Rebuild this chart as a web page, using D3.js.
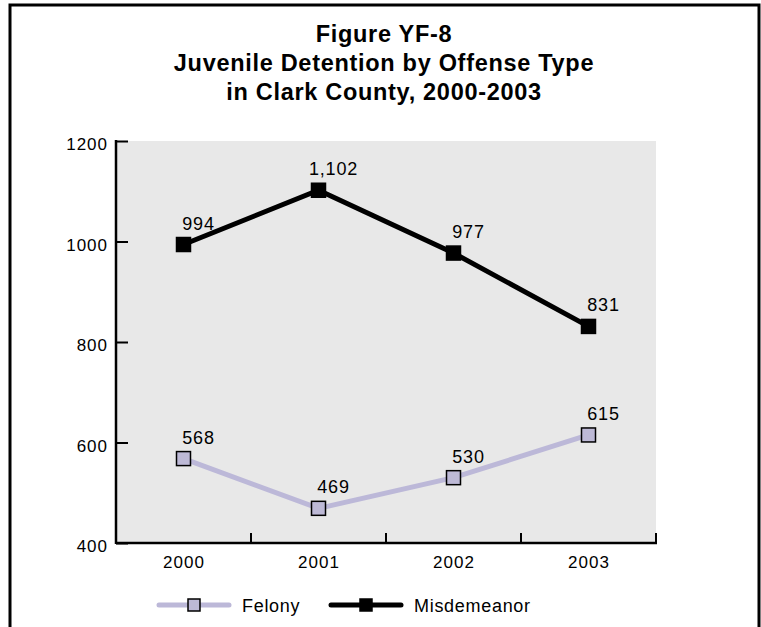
<!DOCTYPE html>
<html><head><meta charset="utf-8">
<script src="https://cdn.jsdelivr.net/npm/d3@7"></script>
<style>body{margin:0;background:#fff}svg{display:block;font-family:"Liberation Sans",Arial,sans-serif}</style>
</head><body><svg id="c" width="761" height="627"></svg>
<script>
const years = ["2000","2001","2002","2003"];
const felony = [568, 469, 530, 615];
const misdemeanor = [994, 1102, 977, 831];
const yTicks = [400, 600, 800, 1000, 1200];
const titleLines = ["Figure YF-8","Juvenile Detention by Offense Type","in Clark County, 2000-2003"];

const svg = d3.select("#c");
// frame
svg.append("path").attr("d","M10,627 V5 H759 V627").attr("fill","none").attr("stroke","#000").attr("stroke-width",3);

svg.selectAll("text.title").data(titleLines).join("text")
  .attr("x",384).attr("y",(d,i)=>42+i*29).attr("text-anchor","middle")
  .attr("font-size",23.5).attr("letter-spacing",0.7).attr("font-weight","bold").text(d=>d);

const L=116, R=656, T=141, B=543;
const x = d3.scaleBand().domain(years).range([L,R]);
const y = d3.scaleLinear().domain([400,1200]).range([B,T]);

svg.append("rect").attr("x",L).attr("y",T).attr("width",R-L).attr("height",B-T).attr("fill","#e8e8e8");

// y axis
const ya = svg.append("g").attr("transform",`translate(${L},0)`)
  .call(d3.axisRight(y).tickValues(yTicks).tickSize(12).tickFormat(""));
ya.select(".domain").remove();
ya.selectAll("line").attr("stroke","#000").attr("stroke-width",2);
svg.append("line").attr("x1",L).attr("x2",L).attr("y1",T-1).attr("y2",B+1).attr("stroke","#000").attr("stroke-width",2.5);
svg.selectAll("text.yt").data(yTicks).join("text").attr("x",L-8).attr("y",d=>y(d)+9)
  .attr("text-anchor","end").attr("font-size",17).attr("letter-spacing",1).text(d=>d);

// x axis
svg.append("line").attr("x1",L).attr("x2",R+1).attr("y1",B).attr("y2",B).attr("stroke","#000").attr("stroke-width",2.5);
const bounds = years.map(d=>x(d)+x.bandwidth());
svg.selectAll("line.xt").data(bounds).join("line").attr("x1",d=>d).attr("x2",d=>d)
  .attr("y1",B).attr("y2",B-10).attr("stroke","#000").attr("stroke-width",2);
svg.selectAll("text.xl").data(years).join("text").attr("x",d=>x(d)+x.bandwidth()/2+0.5).attr("y",B+25)
  .attr("text-anchor","middle").attr("font-size",17).attr("letter-spacing",1).text(d=>d);

const cx = d=>x(d)+x.bandwidth()/2;
function series(vals, color, fill, fmt){
  const pts = years.map((yr,i)=>[cx(yr), y(vals[i]), vals[i]]);
  svg.append("path").attr("d",d3.line()(pts.map(p=>[p[0],p[1]]))).attr("fill","none")
    .attr("stroke",color).attr("stroke-width",5).attr("stroke-linejoin","miter");
  svg.selectAll(null).data(pts).join("rect").attr("x",p=>p[0]-7).attr("y",p=>p[1]-7)
    .attr("width",14).attr("height",14).attr("fill",fill).attr("stroke","#000").attr("stroke-width",1.5);
  svg.selectAll(null).data(pts).join("text").attr("x",p=>p[0]+15).attr("y",p=>p[1]-15)
    .attr("text-anchor","middle").attr("font-size",18).attr("letter-spacing",0.8).text(p=>fmt(p[2]));
}
series(felony, "#bcb8d8", "#bdb9d6", d3.format("d"));
series(misdemeanor, "#000", "#000", d3.format(","));

// legend
const ly = 605;
function legend(x0, color, fill, label){
  svg.append("line").attr("x1",x0).attr("x2",x0+70).attr("y1",ly).attr("y2",ly)
    .attr("stroke",color).attr("stroke-width",5).attr("stroke-linecap","round");
  svg.append("rect").attr("x",x0+35-6).attr("y",ly-6).attr("width",12).attr("height",12)
    .attr("fill",fill).attr("stroke","#000").attr("stroke-width",1.5);
  svg.append("text").attr("x",x0+83).attr("y",ly+6.5).attr("font-size",18).attr("letter-spacing",0.7).text(label);
}
legend(159, "#bcb8d8", "#bdb9d6", "Felony");
legend(331, "#000", "#000", "Misdemeanor");
</script></body></html>
